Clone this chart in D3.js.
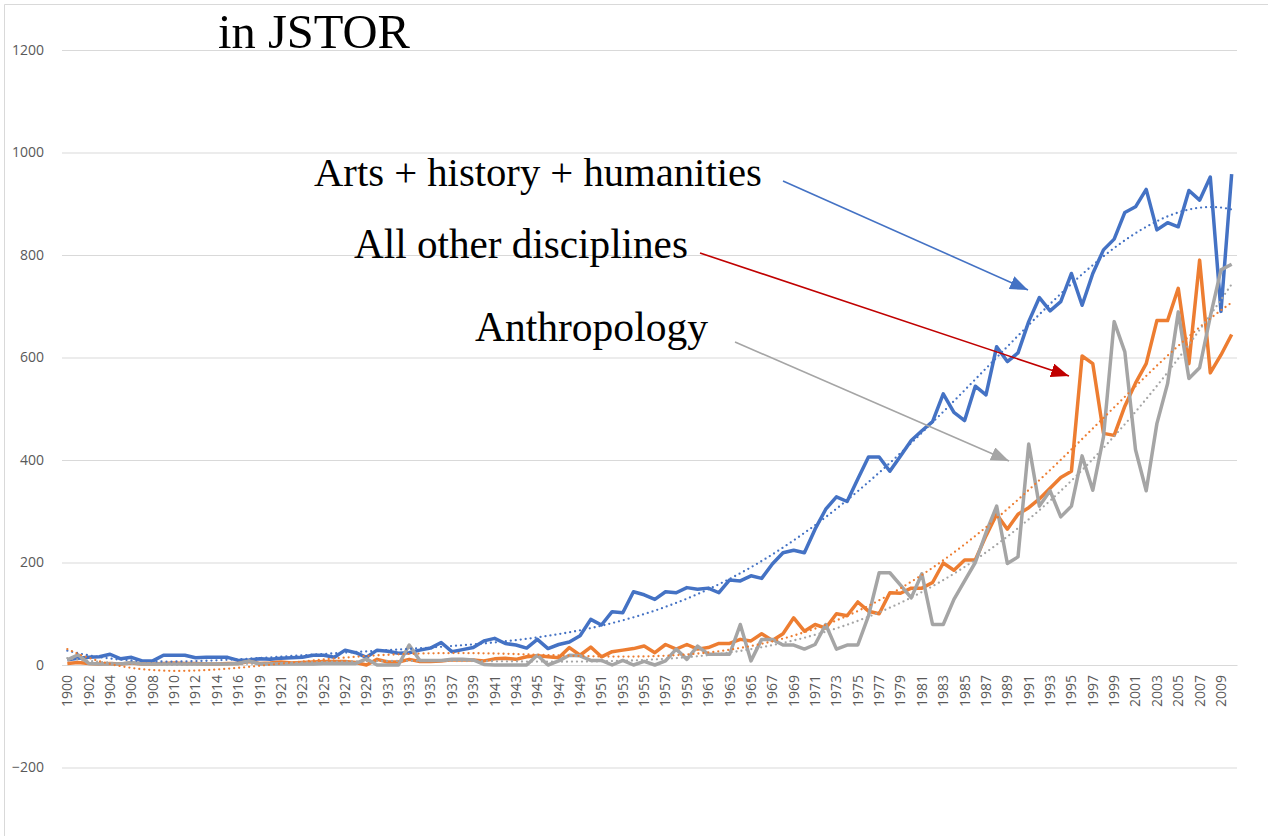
<!DOCTYPE html>
<html lang="en">
<head>
<meta charset="utf-8">
<title>JSTOR chart</title>
<script src="https://d3js.org/d3.v7.min.js"></script>
<style>
  body { margin: 0; background: #fff; }
  .axis text { font-family: "Open Sans", sans-serif; fill: #595959; }
  .note { font-family: "Liberation Serif", serif; fill: #000; }
</style>
</head>
<body>
<div id="chart"></div>
<script>
// categories (1918 is missing in the source data)
var years = [1900,1901,1902,1903,1904,1905,1906,1907,1908,1909,1910,1911,1912,1913,1914,1915,1916,1917,
  1919,1920,1921,1922,1923,1924,1925,1926,1927,1928,1929,1930,1931,1932,1933,1934,1935,1936,1937,1938,1939,
  1940,1941,1942,1943,1944,1945,1946,1947,1948,1949,1950,1951,1952,1953,1954,1955,1956,1957,1958,1959,
  1960,1961,1962,1963,1964,1965,1966,1967,1968,1969,1970,1971,1972,1973,1974,1975,1976,1977,1978,1979,
  1980,1981,1982,1983,1984,1985,1986,1987,1988,1989,1990,1991,1992,1993,1994,1995,1996,1997,1998,1999,
  2000,2001,2002,2003,2004,2005,2006,2007,2008,2009,2010];

// Arts + history + humanities
var artsHist = [10,13,15,16,21,12,15,8,8,19,19,19,14,15,15,15,9,10,
  12,11,13,14,15,19,19,15,29,24,15,29,27,23,24,29,33,44,26,30,34,
  47,52,42,39,33,50,32,40,45,57,89,78,104,102,143,137,128,143,141,151,
  148,150,141,166,164,174,169,197,219,224,219,265,304,328,319,363,406,406,378,408,
  438,457,475,529,493,477,544,527,621,592,609,670,717,691,709,764,702,764,810,831,
  883,894,928,849,863,855,926,907,952,690,958];

// All other disciplines
var allOther = [3,5,3,2,3,2,4,2,2,3,4,3,3,2,2,3,3,7,
  3,4,6,4,5,6,7,7,7,5,0,11,6,6,11,7,7,8,10,10,10,
  8,12,13,11,16,18,16,14,34,19,35,16,26,29,32,37,24,40,31,40,
  31,34,42,42,50,47,61,48,61,92,66,79,72,100,96,123,105,100,141,140,
  150,150,161,199,185,205,205,252,294,265,294,307,324,345,366,378,603,588,452,448,
  505,550,588,672,672,735,588,790,570,605,645];

// Anthropology
var anthro = [10,20,3,2,2,2,5,2,2,2,2,2,2,2,2,2,3,8,
  2,2,2,2,2,2,3,3,3,3,12,0,0,0,39,9,9,9,11,11,10,
  1,0,0,0,0,19,0,8,19,18,9,9,0,9,0,7,0,8,31,11,
  37,21,21,21,79,8,50,50,39,39,31,40,79,31,39,39,96,180,180,156,
  131,178,79,79,128,164,200,258,310,198,211,431,310,340,289,310,408,341,445,670,
  611,420,340,471,549,689,559,580,680,771,782];

var yTicks = [-200,0,200,400,600,800,1000,1200];

// polynomial trendline order per series
var series = [
  {name: "Arts + history + humanities", values: artsHist, color: "#4472C4", order: 5},
  {name: "All other disciplines", values: allOther, color: "#ED7D31", order: 5},
  {name: "Anthropology", values: anthro, color: "#A5A5A5", order: 5}
];

var W = 1268, H = 836;
var plotL = 62, plotR = 1237, plotT = 50, plotB = 767.5;

var svg = d3.select("#chart").append("svg")
  .attr("width", W).attr("height", H);

// chart frame (only top/left edges are visible)
svg.append("path")
  .attr("d", "M4.5," + (H + 5) + "V4.5H" + (W + 5))
  .attr("fill", "none").attr("stroke", "#D9D9D9").attr("stroke-width", 1);

var x = d3.scaleBand().domain(years).range([plotL, plotR]);
var cx = function(i) { return x(years[i]) + x.bandwidth() / 2; };
var y = d3.scaleLinear().domain([-200, 1200]).range([plotB, plotT]);

// y axis + gridlines
var yAxis = svg.append("g").attr("class", "axis")
  .attr("transform", "translate(" + plotL + ",0)")
  .call(d3.axisLeft(y).tickValues(yTicks).tickFormat(d3.format("d"))
    .tickSize(-(plotR - plotL)).tickPadding(18));
yAxis.select(".domain").remove();
yAxis.selectAll(".tick line").attr("stroke", "#D9D9D9");
yAxis.selectAll("text").style("font-size", "14px");

// x axis at zero
var xAxis = svg.append("g").attr("class", "axis")
  .attr("transform", "translate(0," + y(0) + ")")
  .call(d3.axisBottom(x).tickValues(years.filter(function(d, i) { return i % 2 === 0; })).tickSize(0));
xAxis.select(".domain").attr("stroke", "#D9D9D9");
xAxis.selectAll("text")
  .style("font-size", "14px")
  .style("text-anchor", "end")
  .attr("x", -10).attr("y", 0).attr("dy", "0.35em")
  .attr("transform", "rotate(-90)");

// lines
var line = d3.line()
  .x(function(d, i) { return cx(i); })
  .y(function(d) { return y(d); });

series.forEach(function(s) {
  svg.append("path")
    .attr("d", line(s.values))
    .attr("fill", "none")
    .attr("stroke", s.color)
    .attr("stroke-width", 3.5)
    .attr("stroke-linejoin", "round");
});

// polynomial trendlines (least squares on category index, like Excel)
function polyfit(ys, order) {
  var n = ys.length, m = (n - 1) / 2, sc = n / 2;
  var k = order + 1, A = [], b = [];
  for (var r = 0; r < k; r++) { A.push(new Array(k).fill(0)); b.push(0); }
  ys.forEach(function(v, i) {
    var t = (i - m) / sc, p = [];
    for (var j = 0; j < k; j++) p.push(Math.pow(t, j));
    for (var r = 0; r < k; r++) {
      b[r] += p[r] * v;
      for (var c = 0; c < k; c++) A[r][c] += p[r] * p[c];
    }
  });
  for (var c = 0; c < k; c++) {
    var piv = c;
    for (var r = c + 1; r < k; r++) if (Math.abs(A[r][c]) > Math.abs(A[piv][c])) piv = r;
    var tmp = A[c]; A[c] = A[piv]; A[piv] = tmp;
    var tb = b[c]; b[c] = b[piv]; b[piv] = tb;
    for (var r = c + 1; r < k; r++) {
      var f = A[r][c] / A[c][c];
      for (var cc = c; cc < k; cc++) A[r][cc] -= f * A[c][cc];
      b[r] -= f * b[c];
    }
  }
  var coef = new Array(k).fill(0);
  for (var r = k - 1; r >= 0; r--) {
    var s = b[r];
    for (var c = r + 1; c < k; c++) s -= A[r][c] * coef[c];
    coef[r] = s / A[r][r];
  }
  return function(i) {
    var t = (i - m) / sc, v = 0;
    for (var j = 0; j < k; j++) v += coef[j] * Math.pow(t, j);
    return v;
  };
}

var steps = d3.range(0, years.length - 1 + 0.001, 0.25);
series.forEach(function(s) {
  var f = polyfit(s.values, s.order);
  var trend = d3.line()
    .x(function(t) { return cx(0) + t * x.step(); })
    .y(function(t) { return y(f(t)); });
  svg.append("path")
    .attr("d", trend(steps))
    .attr("fill", "none")
    .attr("stroke", s.color)
    .attr("stroke-width", 2.3)
    .attr("stroke-linecap", "round")
    .attr("stroke-dasharray", "0,5");
});

// text helper: fit text to a measured width
function fitText(str, x0, yBase, width, baseSize) {
  var t = svg.append("text").attr("class", "note")
    .attr("x", x0).attr("y", yBase)
    .style("font-size", baseSize + "px").text(str);
  var len = t.node().getComputedTextLength();
  t.style("font-size", (baseSize * width / len) + "px");
  return t;
}

fitText("in JSTOR", 218, 48, 192, 48);
fitText("Arts + history + humanities", 314, 186, 448, 36);
fitText("All other disciplines", 354, 258, 334, 36);
fitText("Anthropology", 475, 341, 233, 36);

// arrows
var arrows = [
  {x1: 783, y1: 181, x2: 1028, y2: 290, color: "#4472C4"},
  {x1: 700, y1: 253, x2: 1069, y2: 376, color: "#C00000"},
  {x1: 735, y1: 342, x2: 1009, y2: 461, color: "#A5A5A5"}
];
var defs = svg.append("defs");
arrows.forEach(function(a, i) {
  defs.append("marker")
    .attr("id", "arr" + i)
    .attr("viewBox", "0 0 18 14")
    .attr("refX", 18).attr("refY", 7)
    .attr("markerWidth", 18).attr("markerHeight", 14)
    .attr("markerUnits", "userSpaceOnUse")
    .attr("orient", "auto")
    .append("path").attr("d", "M0,0L18,7L0,14Z").attr("fill", a.color);
  svg.append("line")
    .attr("x1", a.x1).attr("y1", a.y1).attr("x2", a.x2).attr("y2", a.y2)
    .attr("stroke", a.color).attr("stroke-width", 1.6)
    .attr("marker-end", "url(#arr" + i + ")");
});
</script>
</body>
</html>
